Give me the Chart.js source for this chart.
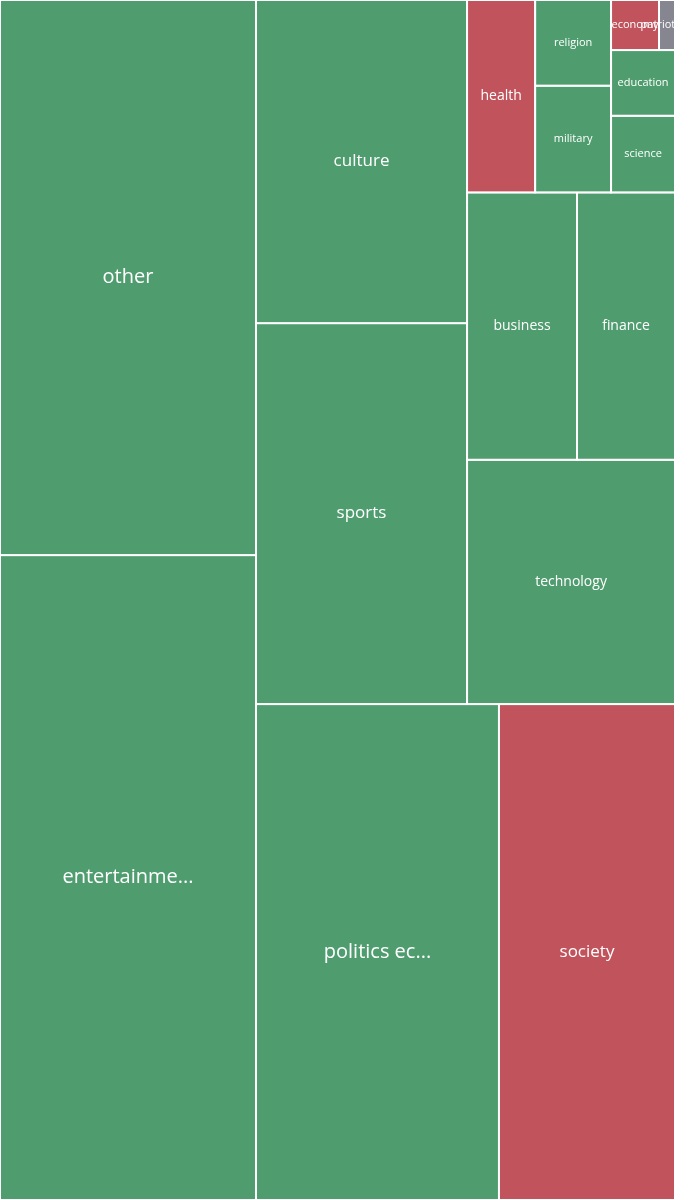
<!DOCTYPE html>
<html><head><meta charset="utf-8">
<script src="https://cdn.jsdelivr.net/npm/chart.js@4.4.0/dist/chart.umd.min.js"></script>
<style>body{margin:0;background:#fff}#w{position:absolute;left:0;top:0;width:675px;height:1200px}</style>
</head><body><div id="w"><canvas id="c"></canvas></div>
<script>
const categories = ["entertainme...","other","politics ec...","society","sports","culture","technology","business","finance","health","military","religion","science","education","economy","patriotism"];
const values = [1651,1421,1205,873,804,682,508,294,262,131,81,65,49,42,24,8];
const colorGroup = ["g","g","g","r","g","g","g","g","g","r","g","g","g","g","r","n"];
// strip sequence: direction and number of items per strip (fills from bottom-left)
const strips = [["col",2],["row",2],["col",2],["row",1],["row",2],["col",1],["col",2],["row",1],["row",1],["row",2]];
const palette = {g:"#4f9d6f", r:"#c0535c", n:"#85868f"};

function layout(W,H){
  const total = values.reduce((a,b)=>a+b,0);
  const k = W*H/total;
  let x=0,y=0,w=W,h=H;
  const rects=[]; let i=0;
  for(const [dir,n] of strips){
    const items=[]; for(let j=0;j<n;j++) items.push(i++);
    const a = items.reduce((s,t)=>s+values[t]*k,0);
    if(dir==="col"){
      const cw=a/h; let yy=y+h;
      for(const t of items){const ch=values[t]*k/cw; yy-=ch; rects[t]={x0:x,y0:yy,x1:x+cw,y1:yy+ch};}
      x+=cw; w-=cw;
    } else {
      const rh=a/w; let xx=x;
      for(const t of items){const rw=values[t]*k/rh; rects[t]={x0:xx,y0:y+h-rh,x1:xx+rw,y1:y+h}; xx+=rw;}
      h-=rh;
    }
  }
  return rects;
}

const treemapPlugin = {
  id:"tm",
  afterDatasetsDraw(chart){
    const {ctx, chartArea:ca, scales:{x:xs,y:ys}} = chart;
    const W=ca.right-ca.left, H=ca.bottom-ca.top;
    const rects = layout(W,H);
    ctx.save();
    ctx.beginPath(); ctx.rect(ca.left,ca.top,W,H); ctx.clip();
    rects.forEach((r,i)=>{
      const px0=xs.getPixelForValue(r.x0/W), px1=xs.getPixelForValue(r.x1/W);
      const py0=ys.getPixelForValue(r.y0/H), py1=ys.getPixelForValue(r.y1/H);
      ctx.fillStyle=palette[colorGroup[i]];
      ctx.fillRect(px0,py0,px1-px0,py1-py0);
      ctx.strokeStyle="#fff"; ctx.lineWidth=2;
      ctx.strokeRect(px0,py0,px1-px0,py1-py0);
    });
    rects.forEach((r,i)=>{
      const px0=xs.getPixelForValue(r.x0/W), px1=xs.getPixelForValue(r.x1/W);
      const py0=ys.getPixelForValue(r.y0/H), py1=ys.getPixelForValue(r.y1/H);
      const a=(px1-px0)*(py1-py0);
      const fs = a>100000?20: a>60000?17: a>12000?14:11;
      ctx.fillStyle="#fff"; ctx.font=fs+"px 'Open Sans', sans-serif";
      ctx.textAlign="center"; ctx.textBaseline="middle";
      ctx.fillText(categories[i],(px0+px1)/2,(py0+py1)/2);
    });
    ctx.restore();
  }
};

new Chart(document.getElementById("c"),{
  type:"scatter",
  data:{datasets:[{data:[],pointRadius:0}]},
  options:{
    responsive:true, maintainAspectRatio:false, animation:false,
    layout:{padding:0},
    plugins:{legend:{display:false},tooltip:{enabled:false}},
    scales:{
      x:{type:"linear",min:0,max:1,display:false},
      y:{type:"linear",min:0,max:1,reverse:true,display:false}
    }
  },
  plugins:[treemapPlugin]
});
</script></body></html>
